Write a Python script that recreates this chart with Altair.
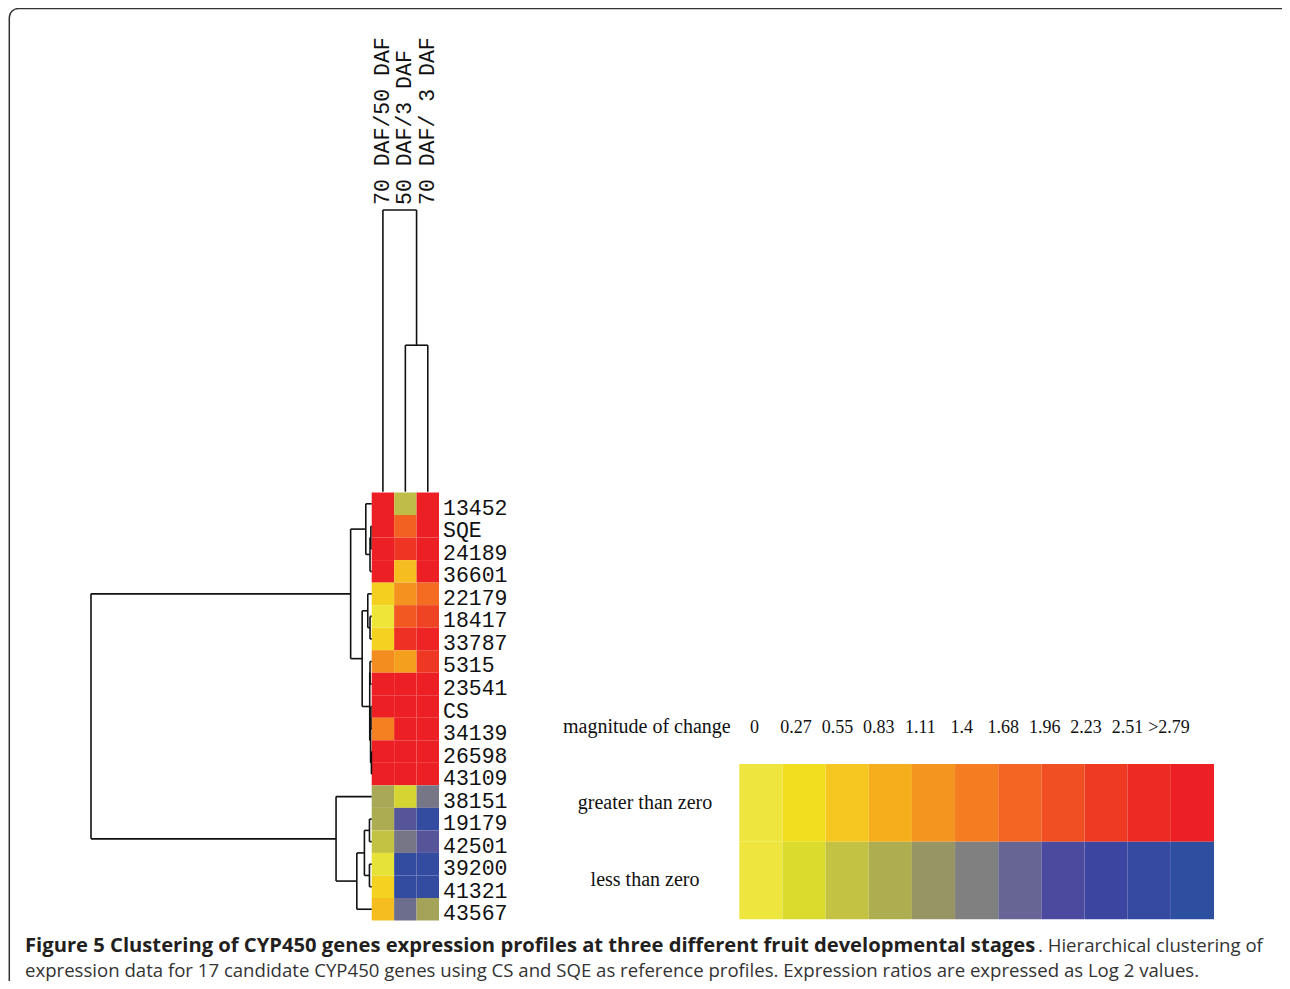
import altair as alt
import pandas as pd

# ---------------- data ----------------
gene_labels = ["13452", "SQE", "24189", "36601", "22179", "18417", "33787", "5315",
               "23541", "CS", "34139", "26598", "43109", "38151", "19179", "42501",
               "39200", "41321", "43567"]
stage_labels = ["70 DAF/50 DAF", "50 DAF/3 DAF", "70 DAF/ 3 DAF"]

# log2 expression ratios
ratio_70_50 = [3.0, 3.0, 3.0, 3.0, 0.45, 0.05, 0.40, 1.20, 3.0, 3.0, 1.35, 3.0, 3.0,
               -0.90, -0.85, -0.55, -0.10, 0.40, 0.65]
ratio_50_3 = [-0.62, 1.75, 2.30, 0.65, 1.15, 1.85, 2.40, 1.00, 3.0, 3.0, 2.80, 3.0, 3.0,
              -0.35, -1.85, -1.50, -2.60, -2.60, -1.60]
ratio_70_3 = [3.0, 3.0, 3.0, 3.0, 1.60, 2.10, 2.70, 2.25, 3.0, 3.0, 3.0, 3.0, 3.0,
              -1.50, -2.60, -1.85, -2.60, -2.60, -0.95]

# hierarchical clustering of genes (linkage: ids < 19 are genes, 19+k is merge k)
row_link_left = [1, 19, 0, 5, 4, 7, 9, 11, 25, 24, 23, 21, 14, 16, 31, 33, 13, 30]
row_link_right = [2, 3, 20, 6, 22, 8, 10, 12, 26, 27, 28, 29, 15, 17, 32, 18, 34, 35]
row_link_height = [0.003, 0.006, 0.021, 0.006, 0.014, 0.006, 0.003, 0.001, 0.004,
                   0.007, 0.034, 0.075, 0.008, 0.008, 0.026, 0.053, 0.127, 1.0]

# hierarchical clustering of stages
col_link_left = [1, 0]
col_link_right = [2, 3]
col_link_height = [0.52, 1.0]

# colour key
legend_magnitudes = [0, 0.27, 0.55, 0.83, 1.11, 1.4, 1.68, 1.96, 2.23, 2.51, 2.79]
legend_tick_labels = ["0", "0.27", "0.55", "0.83", "1.11", "1.4", "1.68", "1.96",
                      "2.23", "2.51", ">2.79"]
legend_row_labels = ["greater than zero", "less than zero"]
zero_color = "#EEE63E"
pos_colors = ["#F2DE1F", "#F6C621", "#F6AE1D", "#F4951F", "#F47C21", "#F36522",
              "#F04F22", "#EE3923", "#EE2A24", "#EC2024"]
neg_colors = ["#DADB2C", "#C4C243", "#AEAE51", "#979563", "#808080", "#666593",
              "#4B4A9F", "#3C45A0", "#354AA0", "#2E4F9F"]

caption_bold = ("Figure 5 Clustering of CYP450 genes expression profiles at three "
                "different fruit developmental stages")
caption_rest1 = ". Hierarchical clustering of"
caption_line2 = ("expression data for 17 candidate CYP450 genes using CS and SQE as reference "
                 "profiles. Expression ratios are expressed as Log 2 values.")

# ---------------- tables ----------------
n_rows = len(gene_labels)
n_cols = len(stage_labels)
cols_values = [ratio_70_50, ratio_50_3, ratio_70_3]

heat = pd.DataFrame([{"r": r, "c": c, "v": cols_values[c][r]}
                     for r in range(n_rows) for c in range(n_cols)])
genes = pd.DataFrame({"r": list(range(n_rows)), "name": gene_labels})
stages = pd.DataFrame({"c": list(range(n_cols)), "name": stage_labels})


def dendro_segments(n, left, right, height):
    pos = {i: i + 0.5 for i in range(n)}
    hgt = {i: 0.0 for i in range(n)}
    span, stem = [], []
    for k, (a, b, h) in enumerate(zip(left, right, height)):
        node = n + k
        pos[node] = (pos[a] + pos[b]) / 2
        hgt[node] = h
        span.append({"p1": pos[a], "p2": pos[b], "h": h})
        for ch in (a, b):
            stem.append({"p": pos[ch], "h1": hgt[ch], "h2": h})
    return pd.DataFrame(span), pd.DataFrame(stem)


row_span, row_stem = dendro_segments(n_rows, row_link_left, row_link_right, row_link_height)
col_span, col_stem = dendro_segments(n_cols, col_link_left, col_link_right, col_link_height)

legend = pd.DataFrame([{"lab": legend_tick_labels[i], "row": legend_row_labels[s],
                        "v": (1 if s == 0 else -1) * legend_magnitudes[i]}
                       for s in range(2) for i in range(len(legend_magnitudes))])
legend_ticks = pd.DataFrame({"lab": legend_tick_labels})
legend_rows = pd.DataFrame({"row": legend_row_labels})
one = pd.DataFrame({"k": [0]})

# ---------------- scales ----------------
ROW_SCALE = alt.Scale(domain=[0, n_rows], range=[484.5, 912.5], nice=False, zero=False)
COL_SCALE = alt.Scale(domain=[0, n_cols], range=[363.7, 431], nice=False, zero=False)
ROW_DIST = alt.Scale(domain=[0, 1], range=[363.7, 83], nice=False, zero=False)
COL_DIST = alt.Scale(domain=[0, 1], range=[483.7, 202], nice=False, zero=False)
COLOR_SCALE = alt.Scale(
    type="linear",
    domain=[-m for m in reversed(legend_magnitudes[1:])] + legend_magnitudes,
    range=list(reversed(neg_colors)) + [zero_color] + pos_colors,
    clamp=True, interpolate="rgb")
LEG_X = alt.Scale(type="band", domain=legend_tick_labels, range=[731.3, 1206],
                  paddingInner=0, paddingOuter=0)
LEG_Y = alt.Scale(type="band", domain=legend_row_labels, range=[756, 911.3],
                  paddingInner=0, paddingOuter=0)
LEG_TICK_X = alt.Scale(type="point", domain=legend_tick_labels, range=[746.5, 1161],
                       padding=0)

LINE = dict(color="#111111", strokeWidth=1.6)

# ---------------- layers ----------------
heatmap = alt.Chart(heat).transform_calculate(
    c2="datum.c + 1", r2="datum.r + 1"
).mark_rect(strokeWidth=0).encode(
    x=alt.X("c:Q", scale=COL_SCALE, axis=None),
    x2="c2:Q",
    y=alt.Y("r:Q", scale=ROW_SCALE, axis=None),
    y2="r2:Q",
    color=alt.Color("v:Q", scale=COLOR_SCALE, legend=None),
)

row_labels = alt.Chart(genes).transform_calculate(rc="datum.r + 0.5").mark_text(
    align="left", baseline="alphabetic", dy=11, font="Liberation Mono",
    fontSize=21.5, color="#111111"
).encode(
    x=alt.value(435),
    y=alt.Y("rc:Q", scale=ROW_SCALE, axis=None),
    text="name:N",
)

col_labels = alt.Chart(stages).transform_calculate(cc="datum.c + 0.5").mark_text(
    align="left", baseline="middle", angle=270, font="Liberation Mono",
    fontSize=21.5, color="#111111"
).encode(
    x=alt.X("cc:Q", scale=COL_SCALE, axis=None),
    y=alt.value(197),
    text="name:N",
)

row_span_l = alt.Chart(row_span).mark_rule(**LINE).encode(
    x=alt.X("h:Q", scale=ROW_DIST, axis=None),
    y=alt.Y("p1:Q", scale=ROW_SCALE, axis=None),
    y2="p2:Q",
)
row_stem_l = alt.Chart(row_stem).mark_rule(**LINE).encode(
    x=alt.X("h1:Q", scale=ROW_DIST, axis=None),
    x2="h2:Q",
    y=alt.Y("p:Q", scale=ROW_SCALE, axis=None),
)
col_span_l = alt.Chart(col_span).mark_rule(**LINE).encode(
    x=alt.X("p1:Q", scale=COL_SCALE, axis=None),
    x2="p2:Q",
    y=alt.Y("h:Q", scale=COL_DIST, axis=None),
)
col_stem_l = alt.Chart(col_stem).mark_rule(**LINE).encode(
    x=alt.X("p:Q", scale=COL_SCALE, axis=None),
    y=alt.Y("h1:Q", scale=COL_DIST, axis=None),
    y2="h2:Q",
)

legend_blocks = alt.Chart(legend).mark_rect(strokeWidth=0).encode(
    x=alt.X("lab:N", scale=LEG_X, axis=None, sort=legend_tick_labels),
    y=alt.Y("row:N", scale=LEG_Y, axis=None, sort=legend_row_labels),
    color=alt.Color("v:Q", scale=COLOR_SCALE, legend=None),
)
legend_tick_text = alt.Chart(legend_ticks).mark_text(
    align="center", baseline="alphabetic", font="Liberation Serif", fontSize=18,
    color="#111111"
).encode(
    x=alt.X("lab:N", scale=LEG_TICK_X, axis=None, sort=legend_tick_labels),
    y=alt.value(725),
    text="lab:N",
)
legend_row_text = alt.Chart(legend_rows).mark_text(
    align="center", baseline="middle", font="Liberation Serif", fontSize=20,
    color="#111111"
).encode(
    x=alt.value(637),
    y=alt.Y("row:N", scale=LEG_Y, axis=None, sort=legend_row_labels),
    text="row:N",
)
legend_title = alt.Chart(one).mark_text(
    align="left", baseline="alphabetic", font="Liberation Serif", fontSize=20,
    color="#111111", text="magnitude of change"
).encode(x=alt.value(555), y=alt.value(725))

cap1 = alt.Chart(one).mark_text(
    align="left", baseline="alphabetic", font="Open Sans", fontSize=20.2,
    fontWeight="bold", color="#231F20", text=caption_bold
).encode(x=alt.value(17), y=alt.value(944))
cap1b = alt.Chart(one).mark_text(
    align="left", baseline="alphabetic", font="Open Sans", fontSize=18.6,
    color="#333333", text=caption_rest1
).encode(x=alt.value(1030), y=alt.value(944))
cap2 = alt.Chart(one).mark_text(
    align="left", baseline="alphabetic", font="Open Sans", fontSize=18.6,
    color="#333333", text=caption_line2
).encode(x=alt.value(17), y=alt.value(969))

border = alt.Chart(one).mark_rect(
    cornerRadius=9, fillOpacity=0, stroke="#333333", strokeWidth=1.5
).encode(x=alt.value(1.3), x2=alt.value(1285), y=alt.value(0.6), y2=alt.value(1010))

chart = alt.layer(
    border, heatmap, row_span_l, row_stem_l, col_span_l, col_stem_l,
    row_labels, col_labels, legend_blocks, legend_tick_text, legend_row_text,
    legend_title, cap1, cap1b, cap2,
).resolve_scale(
    x="independent", y="independent", color="independent"
).properties(
    width=1274, height=973, autosize=alt.AutoSizeParams(type="none"), padding=0,
    background="white"
).configure_view(stroke=None)

chart.save("out.html", embed_options={"renderer": "svg", "actions": False})
